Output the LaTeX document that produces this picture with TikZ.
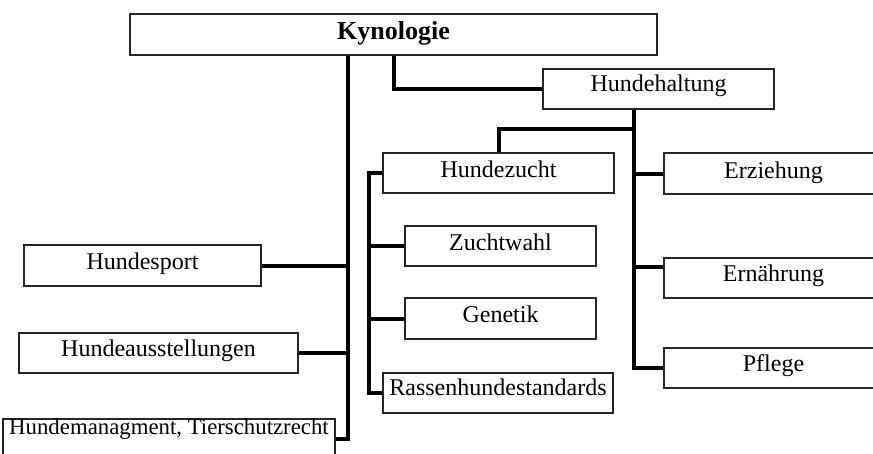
\documentclass[tikz,border=0pt]{standalone}
\usepackage{fontspec}
\setmainfont{Liberation Serif}
\begin{document}
\begin{tikzpicture}[x=1pt,y=-1pt,
  box/.style={draw=black!85, line width=1.3pt, rectangle, inner sep=0pt, fill=white,
    text height=17pt, text depth=10pt, font=\fontsize{24}{28}\selectfont},
  conn/.style={line width=4pt, line cap=butt, line join=miter}]
\useasboundingbox (0,0) rectangle (873,453);
\clip (0,0) rectangle (873,453);
% trunk positions
\coordinate (t) at (348,0);
\coordinate (k2) at (394,0);
\coordinate (r) at (634,0);
\coordinate (z) at (369,0);
\coordinate (hy) at (0,129);
% boxes
\node[box, minimum width=527pt, minimum height=41pt, text height=18pt, text depth=7.6pt,
  font=\fontsize{26}{30}\selectfont\bfseries] (kyn) at (393.5,34.5) {Kynologie};
\node[box, minimum width=231pt, minimum height=40pt, text depth=11.6pt] (hh) at (658.5,89) {Hundehaltung};
\node[box, minimum width=231pt, minimum height=40pt, text depth=9pt] (hz) at (498.5,173) {Hundezucht};
\node[box, minimum width=191pt, minimum height=40pt, text depth=9pt] (zw) at (500.5,246) {Zuchtwahl};
\node[box, minimum width=191pt, minimum height=41pt, text depth=10pt] (gen) at (500.5,318.5) {Genetik};
\node[box, minimum width=230pt, minimum height=40pt, text depth=12.4pt] (rass) at (498,393) {Rassenhundestandards};
\node[box, minimum width=219pt, minimum height=41pt, text depth=8pt] (erz) at (773.5,173.5) {Erziehung};
\node[box, minimum width=219pt, minimum height=40pt, text depth=10.4pt] (ern) at (773.5,278) {Ernährung};
\node[box, minimum width=219pt, minimum height=40pt, text depth=10.2pt] (pfl) at (773.5,368) {Pflege};
\node[box, minimum width=237pt, minimum height=41pt, text depth=9.4pt] (sport) at (142.5,265.5) {Hundesport};
\node[box, minimum width=279pt, minimum height=40pt, text depth=9.6pt] (aus) at (158.5,353) {Hundeausstellungen};
\node[box, minimum width=332pt, minimum height=40pt, text height=12pt, text depth=21.4pt,
  font=\fontsize{22.8}{26}\selectfont] (hm) at (169,439) {Hundemanagment, Tierschutzrecht};
% connectors
\draw[conn] (kyn.south -| t) |- (hm.east);
\draw[conn] (sport.east) -- (sport.east -| t);
\draw[conn] (aus.east) -- (aus.east -| t);
\draw[conn] (kyn.south -| k2) |- (hh.west);
\draw[conn] (hh.south -| r) |- (pfl.west);
\draw[conn] (erz.west) -- (erz.west -| r);
\draw[conn] ([yshift=11pt]ern.west) -- ([yshift=11pt]ern.west -| r);
\draw[conn] (r |- hy) -| (hz.north);
\draw[conn] (hz.west) -| (rass.west -| z) -- (rass.west);
\draw[conn] (zw.west) -- (zw.west -| z);
\draw[conn] (gen.west) -- (gen.west -| z);
\end{tikzpicture}
\end{document}
